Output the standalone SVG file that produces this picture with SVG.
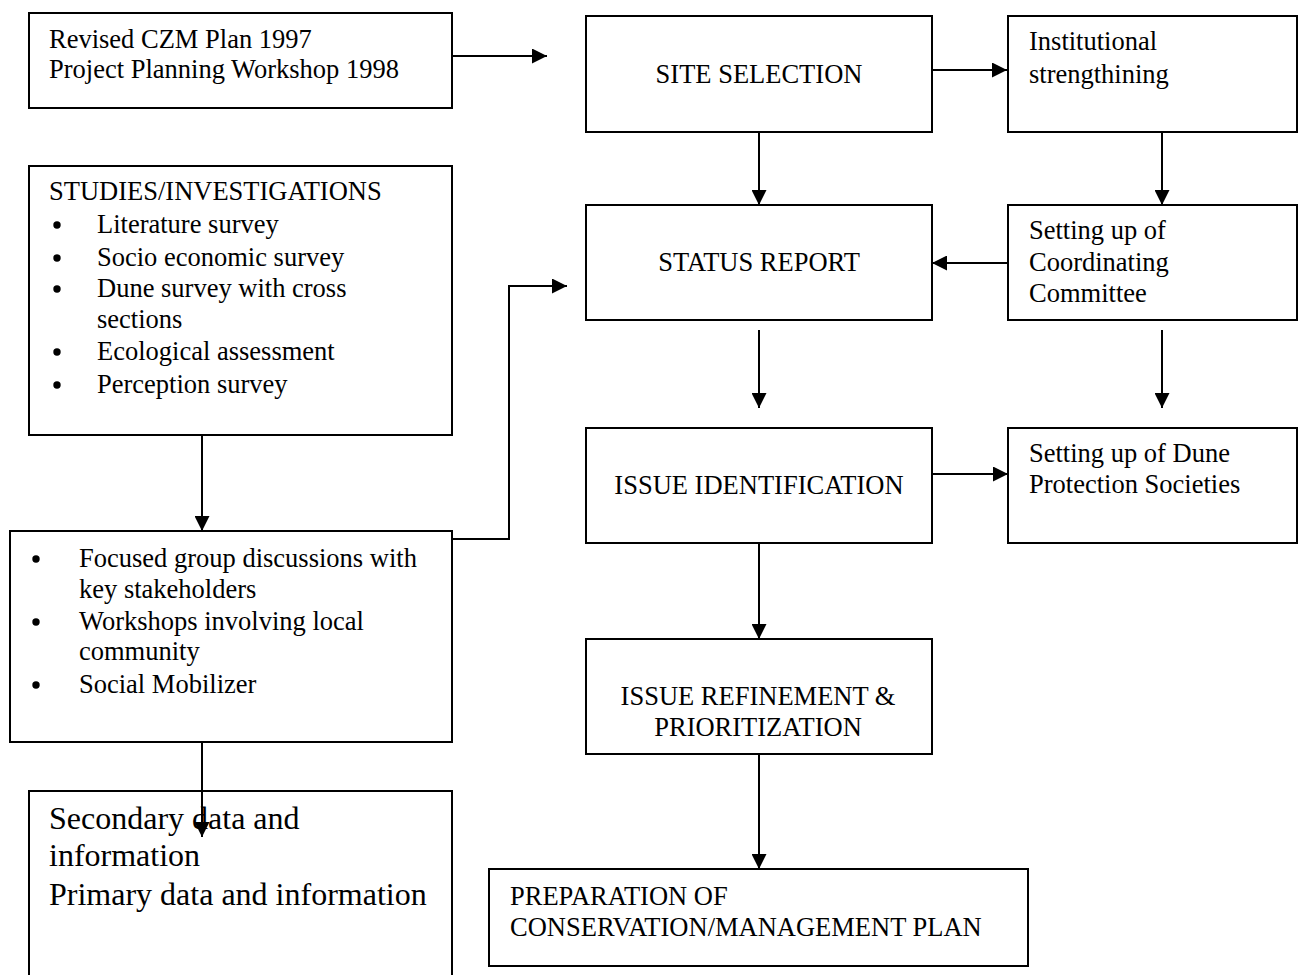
<svg xmlns="http://www.w3.org/2000/svg" width="1299" height="975" viewBox="0 0 1299 975">
<style>
rect.box{fill:#fff;stroke:#000;stroke-width:2}
text{font-family:"Liberation Serif","Times New Roman",serif;font-size:26.5px;fill:#000}
text.c{text-anchor:middle}
text.big{font-size:32px}
circle.bul{fill:#000}
.con line,.con polyline{stroke:#000;stroke-width:2;fill:none;marker-end:url(#ah)}
</style>
<defs>
<marker id="ah" markerUnits="userSpaceOnUse" markerWidth="15" markerHeight="15" refX="15" refY="7.5" orient="auto">
<path d="M0,0 L15,7.5 L0,15 z" fill="#000"/>
</marker>
</defs>
<rect x="0" y="0" width="1299" height="975" fill="#fff"/>
<g id="n-plan"><rect class="box" x="29" y="13" width="423" height="95"/>
<text x="49" y="48">Revised CZM Plan 1997</text><text x="49" y="78">Project Planning Workshop 1998</text></g>
<g id="n-site"><rect class="box" x="586" y="16" width="346" height="116"/>
<text class="c" x="759" y="83">SITE SELECTION</text></g>
<g id="n-inst"><rect class="box" x="1008" y="16" width="289" height="116"/>
<text x="1029" y="50">Institutional</text><text x="1029" y="83">strengthining</text></g>
<g id="n-studies"><rect class="box" x="29" y="166" width="423" height="269"/>
<text x="49" y="200">STUDIES/INVESTIGATIONS</text>
<circle class="bul" cx="57" cy="225" r="3.7"/><text x="97" y="233">Literature survey</text>
<circle class="bul" cx="57" cy="258" r="3.7"/><text x="97" y="266">Socio economic survey</text>
<circle class="bul" cx="57" cy="289" r="3.7"/><text x="97" y="297">Dune survey with cross</text>
<text x="97" y="328">sections</text>
<circle class="bul" cx="57" cy="352" r="3.7"/><text x="97" y="360">Ecological assessment</text>
<circle class="bul" cx="57" cy="385" r="3.7"/><text x="97" y="393">Perception survey</text></g>
<g id="n-status"><rect class="box" x="586" y="205" width="346" height="115"/>
<text class="c" x="759" y="271">STATUS REPORT</text></g>
<g id="n-coord"><rect class="box" x="1008" y="205" width="289" height="115"/>
<text x="1029" y="239">Setting up of</text><text x="1029" y="271">Coordinating</text><text x="1029" y="302">Committee</text></g>
<g id="n-issueid"><rect class="box" x="586" y="428" width="346" height="115"/>
<text class="c" x="759" y="494">ISSUE IDENTIFICATION</text></g>
<g id="n-dune"><rect class="box" x="1008" y="428" width="289" height="115"/>
<text x="1029" y="462">Setting up of Dune</text><text x="1029" y="493">Protection Societies</text></g>
<g id="n-focus"><rect class="box" x="10" y="531" width="442" height="211"/>
<circle class="bul" cx="36" cy="559" r="3.7"/><text x="79" y="567">Focused group discussions with</text>
<text x="79" y="598">key stakeholders</text>
<circle class="bul" cx="36" cy="622" r="3.7"/><text x="79" y="630">Workshops involving local</text>
<text x="79" y="660">community</text>
<circle class="bul" cx="36" cy="685" r="3.7"/><text x="79" y="693">Social Mobilizer</text></g>
<g id="n-refine"><rect class="box" x="586" y="639" width="346" height="115"/>
<text class="c" x="758" y="705">ISSUE REFINEMENT &amp;</text><text class="c" x="758" y="736">PRIORITIZATION</text></g>
<g id="n-secondary"><rect class="box" x="29" y="791" width="423" height="200"/>
<text class="big" x="49" y="829">Secondary data and</text><text class="big" x="49" y="866">information</text><text class="big" x="49" y="905">Primary data and information</text></g>
<g id="n-prep"><rect class="box" x="489" y="869" width="539" height="97"/>
<text x="510" y="905">PREPARATION OF</text><text x="510" y="936">CONSERVATION/MANAGEMENT PLAN</text></g>
<g id="connectors" class="con">
<line x1="452" y1="56" x2="547" y2="56"/>
<line x1="932" y1="70" x2="1007" y2="70"/>
<line x1="759" y1="132" x2="759" y2="205"/>
<line x1="1162" y1="132" x2="1162" y2="205"/>
<line x1="1008" y1="263" x2="932" y2="263"/>
<line x1="759" y1="330" x2="759" y2="408"/>
<line x1="1162" y1="330" x2="1162" y2="408"/>
<line x1="932" y1="474" x2="1008" y2="474"/>
<line x1="759" y1="543" x2="759" y2="639"/>
<line x1="759" y1="754" x2="759" y2="869"/>
<line x1="202" y1="435" x2="202" y2="531"/>
<polyline points="452,539 509,539 509,286 567,286"/>
<line x1="202" y1="742" x2="202" y2="837"/>
</g>
</svg>
